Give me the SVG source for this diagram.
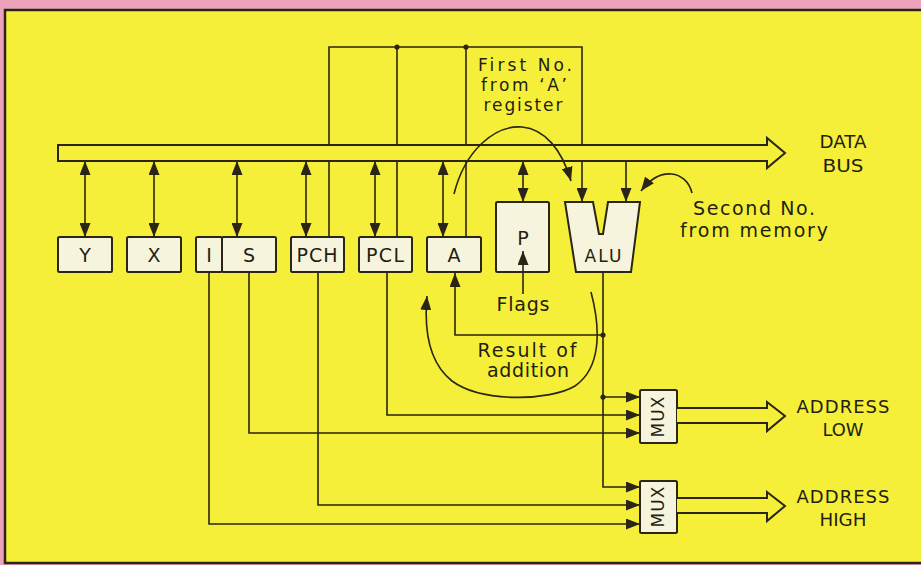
<svg xmlns="http://www.w3.org/2000/svg" width="921" height="565" viewBox="0 0 921 565">
<style>
.ln{fill:none;stroke:#2a2514;stroke-width:1.6}
.bx{fill:#f7f4de;stroke:#2a2514;stroke-width:2}
.bus{fill:#f6ef3a;stroke:#2a2514;stroke-width:2;stroke-linejoin:miter}
.t{font-family:"DejaVu Sans","Liberation Sans",sans-serif;font-size:18px;fill:#231e10;text-anchor:middle}
.r{font-size:19px}
.s{font-size:17px}
.dot{fill:#2a2514}
</style>
<defs>
<marker id="ah" viewBox="0 0 14 11" refX="14" refY="5.5" markerWidth="14" markerHeight="11" markerUnits="userSpaceOnUse" orient="auto-start-reverse">
<path d="M0,0 L14,5.5 L0,11 Z" fill="#2a2514"/>
</marker>
</defs>
<rect x="0" y="0" width="921" height="565" fill="#eca2bb"/>
<rect x="5" y="10" width="930" height="553" fill="#f6ef3a" stroke="#2a2514" stroke-width="2.5"/>

<g id="connectors">
<path class="ln" d="M329,237 V47 H582 V202" marker-end="url(#ah)"/>
<path class="ln" d="M397,237 V47"/>
<path class="ln" d="M466,237 V47"/>
<path class="ln" d="M85,161 V237" marker-start="url(#ah)" marker-end="url(#ah)"/>
<path class="ln" d="M154,161 V237" marker-start="url(#ah)" marker-end="url(#ah)"/>
<path class="ln" d="M237,161 V237" marker-start="url(#ah)" marker-end="url(#ah)"/>
<path class="ln" d="M306,161 V237" marker-start="url(#ah)" marker-end="url(#ah)"/>
<path class="ln" d="M375,161 V237" marker-start="url(#ah)" marker-end="url(#ah)"/>
<path class="ln" d="M443,161 V237" marker-start="url(#ah)" marker-end="url(#ah)"/>
<path class="ln" d="M523,161 V202" marker-start="url(#ah)" marker-end="url(#ah)"/>
<path class="ln" d="M626,161 V202" marker-end="url(#ah)"/>
<path class="ln" d="M603,272 V487 H640" marker-end="url(#ah)"/>
<path class="ln" d="M603,335 H455 V273" marker-end="url(#ah)"/>
<path class="ln" d="M603,397 H640" marker-end="url(#ah)"/>
<path class="ln" d="M387,272 V415 H640" marker-end="url(#ah)"/>
<path class="ln" d="M249,272 V433 H640" marker-end="url(#ah)"/>
<path class="ln" d="M318,272 V505 H640" marker-end="url(#ah)"/>
<path class="ln" d="M209,272 V524 H640" marker-end="url(#ah)"/>
<circle class="dot" cx="397" cy="47" r="2.6"/>
<circle class="dot" cx="466" cy="47" r="2.6"/>
<circle class="dot" cx="603" cy="335" r="2.6"/>
<circle class="dot" cx="603" cy="397" r="2.6"/>
</g>

<g id="node-databus">
<path class="bus" d="M58,145 H767 V138 L785,153 L767,168 V161 H58 Z"/>
<text class="t" x="843" y="148" textLength="47" lengthAdjust="spacingAndGlyphs">DATA</text>
<text class="t" x="843" y="172" textLength="41" lengthAdjust="spacingAndGlyphs">BUS</text>
</g>

<g id="curves">
<path class="ln" d="M454,194 C465,150 495,125 522,127 C545,129 562,150 571,181" marker-end="url(#ah)"/>
<path class="ln" d="M692,193 C686,170 660,166 641,191" marker-end="url(#ah)"/>
<path class="ln" d="M591,292 C601,330 601,368 575,386 C550,401 482,403 452,381 C429,363 424,330 427,296" marker-end="url(#ah)"/>
</g>

<g id="node-Y"><rect class="bx" x="58" y="237" width="54" height="35" rx="1.5"/><text class="t r" x="85" y="262">Y</text></g>
<g id="node-X"><rect class="bx" x="127" y="237" width="54" height="35" rx="1.5"/><text class="t r" x="154" y="262">X</text></g>
<g id="node-I"><rect class="bx" x="196" y="237" width="26" height="35" rx="1.5"/><text class="t r" x="209" y="262">I</text></g>
<g id="node-S"><rect class="bx" x="222" y="237" width="54" height="35" rx="1.5"/><text class="t r" x="249" y="262">S</text></g>
<g id="node-PCH"><rect class="bx" x="291" y="237" width="53" height="35" rx="1.5"/><text class="t r" x="317" y="262" textLength="41" lengthAdjust="spacing">PCH</text></g>
<g id="node-PCL"><rect class="bx" x="359" y="237" width="53" height="35" rx="1.5"/><text class="t r" x="385" y="262" textLength="38" lengthAdjust="spacing">PCL</text></g>
<g id="node-A"><rect class="bx" x="427" y="237" width="54" height="35" rx="1.5"/><text class="t r" x="454" y="262">A</text></g>
<g id="node-P"><rect class="bx" x="496" y="202" width="53" height="70" rx="1.5"/><text class="t r" x="523" y="245">P</text></g>
<g id="node-ALU"><path class="bx" d="M565,202 H593 L599,234 H603 L608,202 H640 L631,272 H576 Z"/><text class="t s" x="603" y="262" textLength="37" lengthAdjust="spacing">ALU</text></g>

<g id="flags-arrow">
<path class="ln" d="M523,294 V251" marker-end="url(#ah)"/>
</g>

<g id="node-MUX-low">
<rect class="bx" x="640" y="390" width="37" height="53" rx="1.5"/>
<text class="t s" transform="translate(664,417) rotate(-90)" x="0" y="0" textLength="41" lengthAdjust="spacing">MUX</text>
<path class="bus" d="M677,408 H767 V402 L785,416 L767,431 V423 H677"/>
<text class="t" x="843" y="413" textLength="93" lengthAdjust="spacing">ADDRESS</text>
<text class="t" x="843" y="436" textLength="41" lengthAdjust="spacingAndGlyphs">LOW</text>
</g>
<g id="node-MUX-high">
<rect class="bx" x="640" y="481" width="37" height="52" rx="1.5"/>
<text class="t s" transform="translate(664,507) rotate(-90)" x="0" y="0" textLength="41" lengthAdjust="spacing">MUX</text>
<path class="bus" d="M677,498 H767 V492 L785,506 L767,521 V513 H677"/>
<text class="t" x="843" y="503" textLength="93" lengthAdjust="spacing">ADDRESS</text>
<text class="t" x="843" y="526" textLength="47" lengthAdjust="spacingAndGlyphs">HIGH</text>
</g>

<g id="labels">
<text class="t s" x="525" y="71" textLength="94" lengthAdjust="spacing">First No.</text>
<text class="t s" x="524" y="91" textLength="86" lengthAdjust="spacing">from ‘A’</text>
<text class="t s" x="523" y="111" textLength="79" lengthAdjust="spacing">register</text>
<text class="t r" x="754" y="215" textLength="122" lengthAdjust="spacing">Second No.</text>
<text class="t r" x="754" y="237" textLength="148" lengthAdjust="spacing">from memory</text>
<text class="t r" x="523" y="311" textLength="53" lengthAdjust="spacing">Flags</text>
<text class="t r" x="527" y="357" textLength="99" lengthAdjust="spacing">Result of</text>
<text class="t r" x="528" y="377" textLength="82" lengthAdjust="spacing">addition</text>
</g>
</svg>
